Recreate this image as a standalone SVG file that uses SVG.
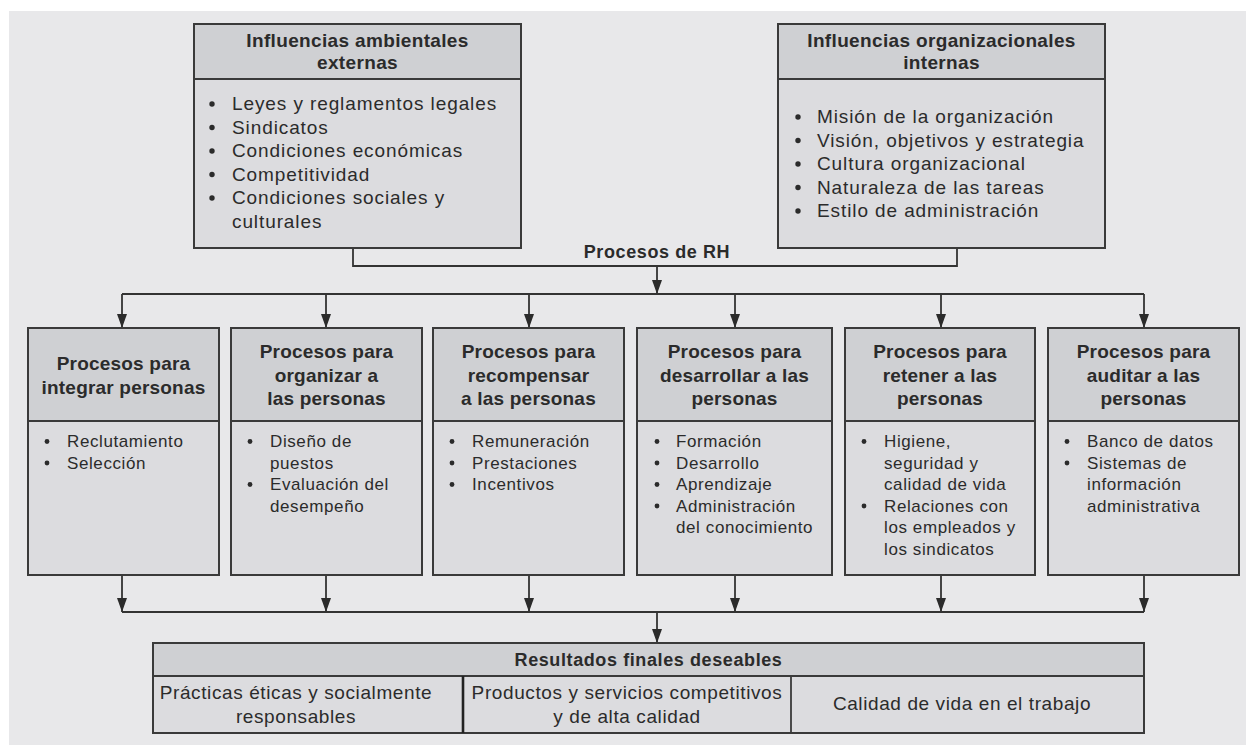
<svg xmlns="http://www.w3.org/2000/svg" width="1246" height="745" viewBox="0 0 1246 745">
<style>
.hdr{fill:#cfd0d3;stroke:#3a3a3a;stroke-width:2}
.bod{fill:#dcdcdf;stroke:#3a3a3a;stroke-width:2}
text{font-family:"Liberation Sans",Arial,sans-serif;fill:#2b2b2b}
.th{font-size:19px;font-weight:bold;letter-spacing:0.35px;text-anchor:middle}
.ph{font-size:19px;font-weight:bold;letter-spacing:0.2px;text-anchor:middle}
.li{font-size:19px;letter-spacing:0.9px}
.pl{font-size:17px;letter-spacing:0.6px}
.rt{font-size:19px;letter-spacing:0.6px;text-anchor:middle}
.rh{font-size:18px;font-weight:bold;letter-spacing:0.6px;text-anchor:middle}
.cn{stroke:#333;stroke-width:1.8;fill:none}
.bl{fill:#2b2b2b}
</style>
<defs>
<marker id="ah" viewBox="0 0 14 10" refX="14" refY="5" markerWidth="14" markerHeight="10" markerUnits="userSpaceOnUse" orient="auto">
<path d="M0,0 L14,5 L0,10 z" fill="#2b2b2b"/>
</marker>
</defs>
<rect x="0" y="0" width="1246" height="745" fill="#ffffff"/>
<rect x="9" y="11" width="1237" height="734" fill="#e8e8ea"/>

<g id="connectors">
<path class="cn" d="M353,248 V266 H957 V248"/>
<path class="cn" d="M657,266 V294" marker-end="url(#ah)"/>
<path class="cn" d="M122,294 H1144"/>
<path class="cn" d="M122,294 V328" marker-end="url(#ah)"/>
<path class="cn" d="M326,294 V328" marker-end="url(#ah)"/>
<path class="cn" d="M529,294 V328" marker-end="url(#ah)"/>
<path class="cn" d="M735,294 V328" marker-end="url(#ah)"/>
<path class="cn" d="M941,294 V328" marker-end="url(#ah)"/>
<path class="cn" d="M1144,294 V328" marker-end="url(#ah)"/>
<path class="cn" d="M122,575 V612" marker-end="url(#ah)"/>
<path class="cn" d="M326,575 V612" marker-end="url(#ah)"/>
<path class="cn" d="M529,575 V612" marker-end="url(#ah)"/>
<path class="cn" d="M735,575 V612" marker-end="url(#ah)"/>
<path class="cn" d="M941,575 V612" marker-end="url(#ah)"/>
<path class="cn" d="M1144,575 V612" marker-end="url(#ah)"/>
<path class="cn" d="M122,612 H1144"/>
<path class="cn" d="M657,612 V643" marker-end="url(#ah)"/>
</g>

<text class="rh" x="657" y="258">Procesos de RH</text>

<g id="externas">
<rect class="bod" x="194" y="24" width="327" height="224"/>
<rect class="hdr" x="194" y="24" width="327" height="55"/>
<text class="th" x="357.5" y="47">Influencias ambientales</text>
<text class="th" x="357.5" y="69">externas</text>
<circle class="bl" cx="212" cy="104" r="2.7"/>
<circle class="bl" cx="212" cy="127.5" r="2.7"/>
<circle class="bl" cx="212" cy="151" r="2.7"/>
<circle class="bl" cx="212" cy="174.5" r="2.7"/>
<circle class="bl" cx="212" cy="198" r="2.7"/>
<text class="li" x="232" y="110">Leyes y reglamentos legales</text>
<text class="li" x="232" y="133.5">Sindicatos</text>
<text class="li" x="232" y="157">Condiciones económicas</text>
<text class="li" x="232" y="180.5">Competitividad</text>
<text class="li" x="232" y="204">Condiciones sociales y</text>
<text class="li" x="232" y="227.5">culturales</text>
</g>

<g id="internas">
<rect class="bod" x="778" y="24" width="327" height="224"/>
<rect class="hdr" x="778" y="24" width="327" height="55"/>
<text class="th" x="941.5" y="47">Influencias organizacionales</text>
<text class="th" x="941.5" y="69">internas</text>
<circle class="bl" cx="798" cy="117" r="2.7"/>
<circle class="bl" cx="798" cy="140.5" r="2.7"/>
<circle class="bl" cx="798" cy="164" r="2.7"/>
<circle class="bl" cx="798" cy="187.5" r="2.7"/>
<circle class="bl" cx="798" cy="211" r="2.7"/>
<text class="li" x="817" y="123">Misión de la organización</text>
<text class="li" x="817" y="146.5">Visión, objetivos y estrategia</text>
<text class="li" x="817" y="170">Cultura organizacional</text>
<text class="li" x="817" y="193.5">Naturaleza de las tareas</text>
<text class="li" x="817" y="217">Estilo de administración</text>
</g>

<g id="integrar">
<rect class="bod" x="28" y="328" width="191" height="247"/>
<rect class="hdr" x="28" y="328" width="191" height="93"/>
<text class="ph" x="123.5" y="369.5">Procesos para</text>
<text class="ph" x="123.5" y="393.5">integrar personas</text>
<circle class="bl" cx="47" cy="441.5" r="2.4"/>
<circle class="bl" cx="47" cy="463" r="2.4"/>
<text class="pl" x="67" y="447">Reclutamiento</text>
<text class="pl" x="67" y="468.5">Selección</text>
</g>

<g id="organizar">
<rect class="bod" x="231" y="328" width="191" height="247"/>
<rect class="hdr" x="231" y="328" width="191" height="93"/>
<text class="ph" x="326.5" y="358">Procesos para</text>
<text class="ph" x="326.5" y="381.5">organizar a</text>
<text class="ph" x="326.5" y="405">las personas</text>
<circle class="bl" cx="250" cy="441.5" r="2.4"/>
<circle class="bl" cx="250" cy="484.5" r="2.4"/>
<text class="pl" x="270" y="447">Diseño de</text>
<text class="pl" x="270" y="468.5">puestos</text>
<text class="pl" x="270" y="490">Evaluación del</text>
<text class="pl" x="270" y="511.5">desempeño</text>
</g>

<g id="recompensar">
<rect class="bod" x="433" y="328" width="191" height="247"/>
<rect class="hdr" x="433" y="328" width="191" height="93"/>
<text class="ph" x="528.5" y="358">Procesos para</text>
<text class="ph" x="528.5" y="381.5">recompensar</text>
<text class="ph" x="528.5" y="405">a las personas</text>
<circle class="bl" cx="452" cy="441.5" r="2.4"/>
<circle class="bl" cx="452" cy="463" r="2.4"/>
<circle class="bl" cx="452" cy="484.5" r="2.4"/>
<text class="pl" x="472" y="447">Remuneración</text>
<text class="pl" x="472" y="468.5">Prestaciones</text>
<text class="pl" x="472" y="490">Incentivos</text>
</g>

<g id="desarrollar">
<rect class="bod" x="637" y="328" width="195" height="247"/>
<rect class="hdr" x="637" y="328" width="195" height="93"/>
<text class="ph" x="734.5" y="358">Procesos para</text>
<text class="ph" x="734.5" y="381.5">desarrollar a las</text>
<text class="ph" x="734.5" y="405">personas</text>
<circle class="bl" cx="657" cy="441.5" r="2.4"/>
<circle class="bl" cx="657" cy="463" r="2.4"/>
<circle class="bl" cx="657" cy="484.5" r="2.4"/>
<circle class="bl" cx="657" cy="506" r="2.4"/>
<text class="pl" x="676" y="447">Formación</text>
<text class="pl" x="676" y="468.5">Desarrollo</text>
<text class="pl" x="676" y="490">Aprendizaje</text>
<text class="pl" x="676" y="511.5">Administración</text>
<text class="pl" x="676" y="533">del conocimiento</text>
</g>

<g id="retener">
<rect class="bod" x="845" y="328" width="190" height="247"/>
<rect class="hdr" x="845" y="328" width="190" height="93"/>
<text class="ph" x="940" y="358">Procesos para</text>
<text class="ph" x="940" y="381.5">retener a las</text>
<text class="ph" x="940" y="405">personas</text>
<circle class="bl" cx="864" cy="441.5" r="2.4"/>
<circle class="bl" cx="864" cy="506" r="2.4"/>
<text class="pl" x="884" y="447">Higiene,</text>
<text class="pl" x="884" y="468.5">seguridad y</text>
<text class="pl" x="884" y="490">calidad de vida</text>
<text class="pl" x="884" y="511.5">Relaciones con</text>
<text class="pl" x="884" y="533">los empleados y</text>
<text class="pl" x="884" y="554.5">los sindicatos</text>
</g>

<g id="auditar">
<rect class="bod" x="1048" y="328" width="191" height="247"/>
<rect class="hdr" x="1048" y="328" width="191" height="93"/>
<text class="ph" x="1143.5" y="358">Procesos para</text>
<text class="ph" x="1143.5" y="381.5">auditar a las</text>
<text class="ph" x="1143.5" y="405">personas</text>
<circle class="bl" cx="1067" cy="441.5" r="2.4"/>
<circle class="bl" cx="1067" cy="463" r="2.4"/>
<text class="pl" x="1087" y="447">Banco de datos</text>
<text class="pl" x="1087" y="468.5">Sistemas de</text>
<text class="pl" x="1087" y="490">información</text>
<text class="pl" x="1087" y="511.5">administrativa</text>
</g>

<g id="resultados">
<rect class="bod" x="153" y="643" width="991" height="90"/>
<rect class="hdr" x="153" y="643" width="991" height="33"/>
<line x1="463" y1="676" x2="463" y2="733" stroke="#222" stroke-width="2.6"/>
<line x1="791" y1="676" x2="791" y2="733" stroke="#3a3a3a" stroke-width="1.8"/>
<text class="rh" x="648.5" y="666">Resultados finales deseables</text>
<text class="rt" x="296" y="699">Prácticas éticas y socialmente</text>
<text class="rt" x="296" y="723">responsables</text>
<text class="rt" x="627" y="699">Productos y servicios competitivos</text>
<text class="rt" x="627" y="723">y de alta calidad</text>
<text class="rt" x="962" y="710">Calidad de vida en el trabajo</text>
</g>
</svg>
